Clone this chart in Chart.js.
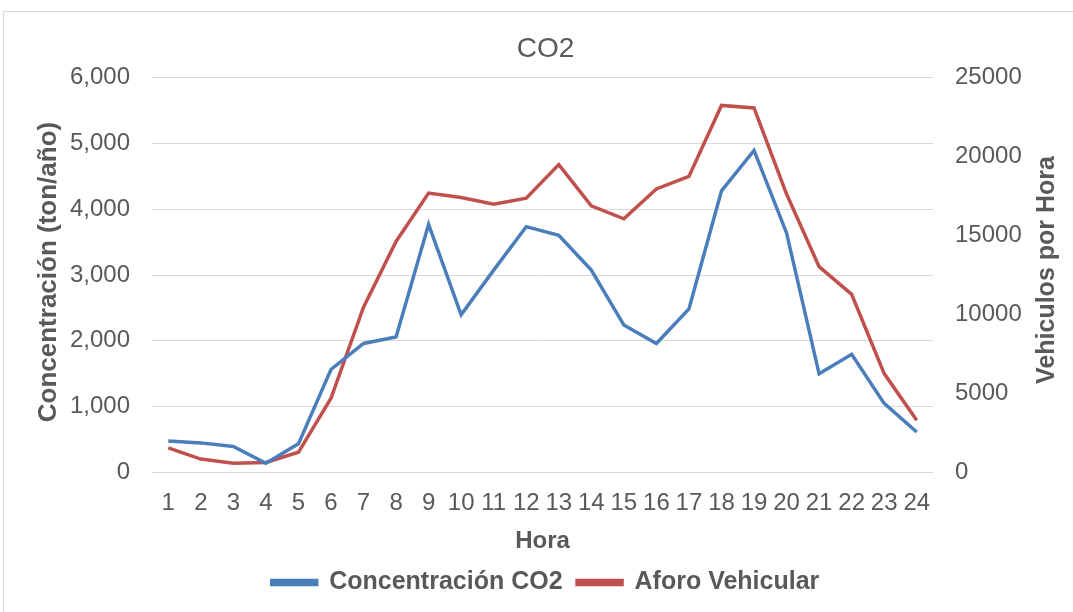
<!DOCTYPE html>
<html>
<head>
<meta charset="utf-8">
<script src="https://cdn.jsdelivr.net/npm/chart.js@4"></script>
<style>
  html, body { margin: 0; padding: 0; background: #fff; }
  #frame { position: absolute; left: 3px; top: 11px; width: 1100px; height: 640px; border: 1px solid #d9d9d9; }
  #wrap { position: absolute; left: 0; top: 0; width: 1073px; height: 612px; }
</style>
</head>
<body>
<div id="frame"></div>
<div id="wrap"><canvas id="chart" width="1073" height="612"></canvas></div>
<script>
const horas = ["1","2","3","4","5","6","7","8","9","10","11","12","13","14","15","16","17","18","19","20","21","22","23","24"];
const co2 = [480, 450, 395, 140, 435, 1565, 1960, 2060, 3770, 2395, 3075, 3735, 3605, 3075, 2240, 1960, 2485, 4280, 4895, 3640, 1500, 1795, 1050, 615];
const aforo = [1560, 850, 580, 640, 1280, 4700, 10470, 14630, 17690, 17410, 16990, 17370, 19490, 16880, 16060, 17950, 18740, 23240, 23080, 17630, 13030, 11280, 6260, 3310];
const leftTicks = [0, 1000, 2000, 3000, 4000, 5000, 6000];
const rightTicks = [0, 5000, 10000, 15000, 20000, 25000];

const textColor = "#595959";
const gridColor = "#d9d9d9";
const blue = "#4a7ebb";
const red = "#c0504d";

Chart.defaults.font.family = '"Liberation Sans", Arial, sans-serif';
Chart.defaults.color = textColor;

// Excel-style axis titles, both reading bottom to top
const axisTitles = {
  id: "axisTitles",
  afterDraw(chart) {
    const ctx = chart.ctx;
    ctx.save();
    ctx.fillStyle = textColor;
    ctx.font = 'bold 26px "Liberation Sans", Arial, sans-serif';
    ctx.textAlign = "center";
    ctx.textBaseline = "middle";
    ctx.translate(49, 272);
    ctx.rotate(-Math.PI / 2);
    ctx.fillText("Concentración (ton/año)", 0, 0);
    ctx.restore();

    ctx.save();
    ctx.fillStyle = textColor;
    ctx.font = 'bold 25px "Liberation Sans", Arial, sans-serif';
    ctx.textAlign = "center";
    ctx.textBaseline = "middle";
    ctx.translate(1047, 270);
    ctx.rotate(-Math.PI / 2);
    ctx.fillText("Vehiculos por Hora", 0, 0);
    ctx.restore();
  }
};

new Chart(document.getElementById("chart"), {
  type: "line",
  data: {
    labels: horas,
    datasets: [
      {
        label: "Concentración CO2",
        data: co2,
        yAxisID: "y",
        borderColor: blue,
        backgroundColor: blue,
        borderWidth: 3.5,
        pointRadius: 0,
        tension: 0
      },
      {
        label: "Aforo Vehicular",
        data: aforo,
        yAxisID: "y1",
        borderColor: red,
        backgroundColor: red,
        borderWidth: 3.5,
        pointRadius: 0,
        tension: 0
      }
    ]
  },
  options: {
    responsive: false,
    animation: false,
    layout: { padding: { left: 18, right: 0, top: 0, bottom: 7 } },
    plugins: {
      title: {
        display: true,
        text: "CO2",
        color: textColor,
        font: { size: 28, weight: "normal" },
        padding: { top: 32, bottom: 12 }
      },
      legend: {
        position: "bottom",
        labels: {
          boxWidth: 45,
          boxHeight: 4,
          padding: 14.5,
          color: textColor,
          font: { size: 25, weight: "bold" }
        }
      },
      tooltip: { enabled: false }
    },
    scales: {
      x: {
        offset: true,
        grid: { display: false, drawTicks: false },
        border: { display: false },
        ticks: { color: textColor, font: { size: 24 }, padding: 16, maxRotation: 0, autoSkip: false },
        title: { display: true, text: "Hora", color: textColor, font: { size: 24, weight: "bold" }, padding: { top: 0, bottom: 0 } },
        afterFit(scale) { scale.height = 83; }
      },
      y: {
        position: "left",
        min: 0,
        max: 6000,
        grid: { color: gridColor, lineWidth: 1, drawTicks: false },
        border: { display: false },
        ticks: {
          color: textColor,
          font: { size: 24 },
          padding: 22,
          callback: (v) => v.toLocaleString("en-US")
        },
        afterBuildTicks(scale) { scale.ticks = leftTicks.map((v) => ({ value: v })); },
        afterFit(scale) { scale.width = 134; }
      },
      y1: {
        position: "right",
        min: 0,
        max: 25000,
        grid: { display: false, drawTicks: false },
        border: { display: false },
        ticks: {
          color: textColor,
          font: { size: 24 },
          padding: 22,
          callback: (v) => String(v)
        },
        afterBuildTicks(scale) { scale.ticks = rightTicks.map((v) => ({ value: v })); },
        afterFit(scale) { scale.width = 140; }
      }
    }
  },
  plugins: [axisTitles]
});
</script>
</body>
</html>
